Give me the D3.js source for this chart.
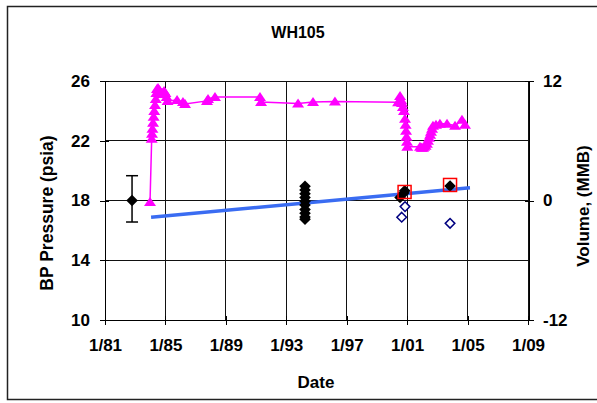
<!DOCTYPE html>
<html><head><meta charset="utf-8">
<script src="https://cdn.jsdelivr.net/npm/d3@7"></script>
<style>
body{margin:0;background:#fff}
svg{display:block}
text{font-family:"Liberation Sans",Arial,sans-serif;font-weight:bold;fill:#000}
</style>
</head><body><svg id="c" width="597" height="403"></svg>
<script>
// ---------------- data ----------------
const chartTitle = "WH105";
const xLabel = "Date";
const yLeftLabel = "BP Pressure (psia)";
const yRightLabel = "Volume, (MMB)";

const xTickYears = [1981, 1985, 1989, 1993, 1997, 2001, 2005, 2009];
const xTickLabels = ["1/81", "1/85", "1/89", "1/93", "1/97", "1/01", "1/05", "1/09"];
const leftTicks = [10, 14, 18, 22, 26];
const leftTickLabels = ["10", "14", "18", "22", "26"];
const rightTicks = [-12, 0, 12];
const rightTickLabels = ["-12", "0", "12"];
const rightGrid = [-12, -6, 0, 6, 12];

// magenta: cavern volume (right axis)
const volYears = [1983.98, 1984.09, 1984.11, 1984.14, 1984.18, 1984.22, 1984.26, 1984.31, 1984.36, 1984.40,
  1984.44, 1984.51, 1984.58, 1984.64, 1984.72, 1984.80, 1984.91, 1985.00, 1985.08, 1985.14, 1985.77,
  1986.16, 1986.30, 1987.75, 1987.82, 1988.28, 1991.26, 1991.33, 1993.78, 1994.77, 1996.22, 2000.40,
  2000.53, 2000.60, 2000.66, 2000.72, 2000.79, 2000.86, 2000.90, 2000.93, 2000.96, 2000.99, 2001.01,
  2001.85, 2001.95, 2002.05, 2002.12, 2002.22, 2002.31, 2002.38, 2002.45, 2002.52, 2002.58, 2002.65,
  2002.71, 2002.91, 2003.17, 2003.64, 2004.17, 2004.63, 2004.83];
const volValues = [-0.15, 6.2, 6.7, 7.2, 7.8, 8.4, 9.0, 9.6, 10.2, 10.8,
  11.2, 11.3, 11.1, 11.0, 10.7, 10.8, 11.0, 10.8, 10.4, 10.0, 10.1,
  9.9, 9.7, 10.0, 10.2, 10.4, 10.4, 9.9, 9.75, 9.9, 9.95, 9.87,
  10.5, 10.1, 9.8, 9.4, 9.0, 8.2, 7.6, 7.0, 6.4, 5.9, 5.4,
  5.4, 5.3, 5.3, 5.4, 5.5, 5.7, 6.0, 6.3, 6.6, 6.9, 7.2,
  7.5, 7.6, 7.7, 7.7, 7.5, 8.1, 7.6];

// black diamonds: measured BP pressure (left axis)
const bpYears = [1994.24, 1994.24, 1994.24, 1994.24, 1994.24, 1994.24, 1994.24, 1994.24, 1994.24, 1994.24,
  2000.53, 2000.78, 2000.84, 2003.84];
const bpPsi = [18.95, 18.7, 18.45, 18.2, 17.95, 17.7, 17.4, 17.15, 16.9, 16.75,
  18.2, 18.5, 18.65, 18.97];

// black diamond with error bar
const errYears = [1982.79];
const errPsi = [18.0];
const errLow = [16.56];
const errHigh = [19.66];

// open navy diamonds
const openYears = [2000.64, 2000.86, 2003.84];
const openPsi = [16.88, 17.59, 16.47];

// red squares
const redYears = [2000.83, 2003.84];
const redPsi = [18.57, 19.04];

// blue trend line
const trendYears = [1984.05, 2005.16];
const trendPsi = [16.88, 18.86];

// ---------------- drawing ----------------
const svg = d3.select("#c");
const X0 = 105, X1 = 528, Y0 = 81, Y1 = 320;
const FONT = '"Liberation Sans",Arial,sans-serif';

const x = d3.scaleLinear().domain([1981, 2009]).range([X0, X1]);
const yL = d3.scaleLinear().domain([10, 26]).range([Y1, Y0]);
const yR = d3.scaleLinear().domain([-12, 12]).range([Y1, Y0]);

// outer border
svg.append("rect").attr("x", 7.5).attr("y", 6.5).attr("width", 600).attr("height", 393)
  .attr("fill", "#fff").attr("stroke", "#222").attr("stroke-width", 1.5);

// grid
const grid = svg.append("g").attr("stroke", "#111").attr("stroke-width", 1).attr("shape-rendering", "crispEdges");
grid.selectAll("line.h").data(rightGrid).join("line")
  .attr("x1", X0).attr("x2", X1).attr("y1", d => yR(d)).attr("y2", d => yR(d));
grid.selectAll("line.v").data(xTickYears).join("line").attr("class", "v")
  .attr("x1", d => x(d)).attr("x2", d => x(d)).attr("y1", Y0).attr("y2", Y1);

// axes
function styleAxis(g) {
  g.selectAll("path,line").attr("stroke", "#000").attr("stroke-width", 1).attr("shape-rendering", "crispEdges");
  g.selectAll("text").attr("font-size", 17).attr("font-family", FONT).attr("font-weight", "bold");
}
const axL = svg.append("g").attr("transform", `translate(${X0},0)`)
  .call(d3.axisLeft(yL).tickValues(leftTicks).tickSizeInner(5).tickSizeOuter(0).tickPadding(10)
    .tickFormat((d, i) => leftTickLabels[i]));
styleAxis(axL);
const axL2 = svg.append("g").attr("transform", `translate(${X0},0)`)
  .call(d3.axisLeft(yL).tickValues(leftTicks).tickSizeInner(-4).tickSizeOuter(0).tickFormat(""));
axL2.select(".domain").remove(); styleAxis(axL2);

const axR = svg.append("g").attr("transform", `translate(${X1 + 1},0)`)
  .call(d3.axisRight(yR).tickValues(rightTicks).tickSizeInner(5).tickSizeOuter(0).tickPadding(9)
    .tickFormat((d, i) => rightTickLabels[i]));
styleAxis(axR);
const axR2 = svg.append("g").attr("transform", `translate(${X1 + 1},0)`)
  .call(d3.axisRight(yR).tickValues(rightTicks).tickSizeInner(-4).tickSizeOuter(0).tickFormat(""));
axR2.select(".domain").remove(); styleAxis(axR2);

const axB = svg.append("g").attr("transform", `translate(0,${Y1})`)
  .call(d3.axisBottom(x).tickValues(xTickYears).tickSizeInner(5).tickSizeOuter(0).tickPadding(14)
    .tickFormat((d, i) => xTickLabels[i]));
styleAxis(axB);
const axB2 = svg.append("g").attr("transform", `translate(0,${Y1})`)
  .call(d3.axisBottom(x).tickValues(xTickYears).tickSizeInner(-4).tickSizeOuter(0).tickFormat(""));
axB2.select(".domain").remove(); styleAxis(axB2);

// titles
svg.append("text").attr("x", 298).attr("y", 38).attr("text-anchor", "middle").attr("font-size", 16).text(chartTitle);
svg.append("text").attr("x", 316).attr("y", 388).attr("text-anchor", "middle").attr("font-size", 17).text(xLabel);
svg.append("text").attr("transform", "translate(53,213) rotate(-90)").attr("text-anchor", "middle").attr("font-size", 17.5).text(yLeftLabel);
svg.append("text").attr("transform", "translate(589,206) rotate(-90)").attr("text-anchor", "middle").attr("font-size", 17).text(yRightLabel);

// trend line
svg.append("line")
  .attr("x1", x(trendYears[0])).attr("y1", yL(trendPsi[0]))
  .attr("x2", x(trendYears[1])).attr("y2", yL(trendPsi[1]))
  .attr("stroke", "#3a6cf2").attr("stroke-width", 3.5);

const diamond = "M0,-5.8L5.8,0L0,5.8L-5.8,0Z";

// black diamonds
svg.append("g").selectAll("path").data(bpYears.map((d, i) => [d, bpPsi[i]])).join("path")
  .attr("d", diamond).attr("transform", d => `translate(${x(d[0])},${yL(d[1])})`).attr("fill", "#000");

// open navy diamonds
svg.append("g").selectAll("path").data(openYears.map((d, i) => [d, openPsi[i]])).join("path")
  .attr("d", "M0,-4.8L4.8,0L0,4.8L-4.8,0Z").attr("transform", d => `translate(${x(d[0])},${yL(d[1])})`)
  .attr("fill", "#fff").attr("stroke", "#000080").attr("stroke-width", 1.5);

// red squares
svg.append("g").selectAll("rect").data(redYears.map((d, i) => [d, redPsi[i]])).join("rect")
  .attr("x", d => x(d[0]) - 6.5).attr("y", d => yL(d[1]) - 6.5).attr("width", 13).attr("height", 13)
  .attr("fill", "none").attr("stroke", "#ff0000").attr("stroke-width", 1.5);

// error bar point
const eg = svg.append("g").attr("stroke", "#000").attr("stroke-width", 1.5);
errYears.forEach((yr, i) => {
  const cx = x(yr);
  eg.append("line").attr("x1", cx).attr("x2", cx).attr("y1", yL(errLow[i])).attr("y2", yL(errHigh[i]));
  eg.append("line").attr("x1", cx - 6).attr("x2", cx + 6).attr("y1", yL(errLow[i])).attr("y2", yL(errLow[i]));
  eg.append("line").attr("x1", cx - 6).attr("x2", cx + 6).attr("y1", yL(errHigh[i])).attr("y2", yL(errHigh[i]));
  svg.append("path").attr("d", diamond).attr("transform", `translate(${cx},${yL(errPsi[i])})`).attr("fill", "#000");
});

// magenta volume line
const volPts = volYears.map((d, i) => [x(d), yR(volValues[i])]);
svg.append("path").attr("d", d3.line()(volPts)).attr("fill", "none").attr("stroke", "#ff00ff").attr("stroke-width", 1.5);
svg.append("g").selectAll("path").data(volPts).join("path")
  .attr("d", "M0,-5L6,4L-6,4Z").attr("transform", d => `translate(${d[0]},${d[1]})`).attr("fill", "#ff00ff");
</script>
</body></html>
